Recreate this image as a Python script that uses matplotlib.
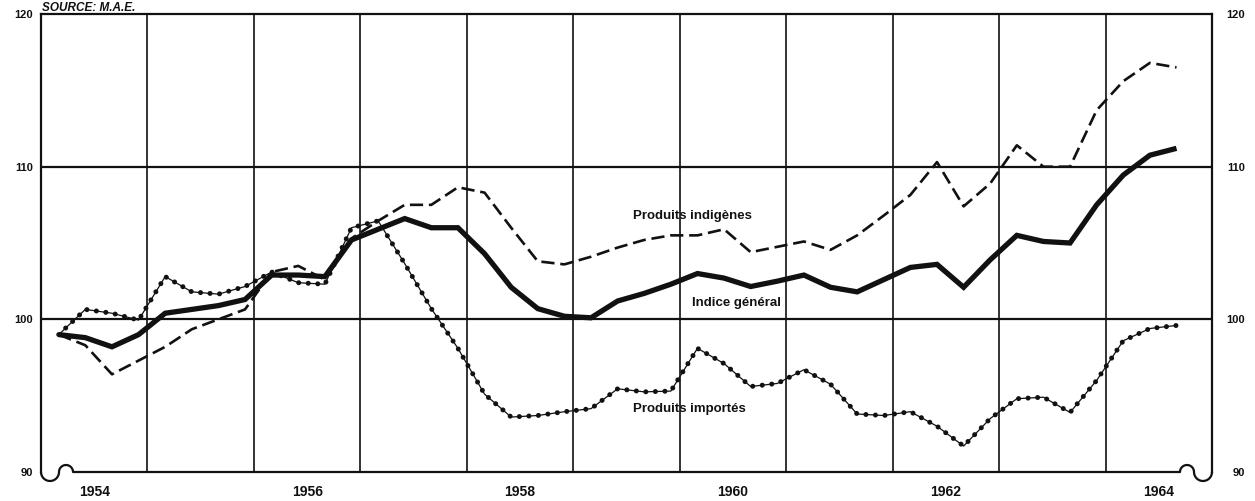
import numpy as np
import matplotlib
matplotlib.use("Agg")
import matplotlib.pyplot as plt

plt.rcParams['font.family'] = ['Liberation Sans', 'DejaVu Sans']

# ---- data (quarterly, 1954 Q1 .. 1964 Q3) ----
quarter_index = np.arange(43)
dates = 1954 + 1 / 6 + 0.25 * quarter_index

indice_general = [99.0, 98.8, 98.2, 99.0, 100.4, 100.65, 100.9, 101.3, 102.9, 102.9,
                  102.8, 105.2, 105.9, 106.6, 106.0, 106.0, 104.3, 102.1, 100.7, 100.2,
                  100.1, 101.2, 101.7, 102.3, 103.0, 102.7, 102.15, 102.5, 102.9, 102.1,
                  101.8, 102.6, 103.4, 103.6, 102.1, 103.9, 105.5, 105.1, 105.0, 107.5,
                  109.45, 110.75, 111.2]

produits_indigenes = [99.0, 98.3, 96.4, 97.3, 98.2, 99.35, 100.0, 100.65, 103.1, 103.5,
                      102.6, 105.3, 106.45, 107.5, 107.5, 108.65, 108.3, 106.0, 103.8, 103.6,
                      104.1, 104.7, 105.2, 105.5, 105.5, 105.9, 104.4, 104.75, 105.1, 104.55,
                      105.5, 106.8, 108.15, 110.3, 107.4, 108.9, 111.4, 110.0, 110.0, 113.7,
                      115.6, 116.8, 116.5]

produits_importes = [99.0, 100.65, 100.4, 99.95, 102.8, 101.8, 101.65, 102.15, 103.1, 102.4,
                     102.3, 106.0, 106.45, 103.65, 100.7, 98.1, 95.1, 93.6, 93.7, 93.95,
                     94.15, 95.45, 95.25, 95.3, 98.1, 97.1, 95.6, 95.8, 96.7, 95.75,
                     93.8, 93.7, 93.95, 93.0, 91.7, 93.5, 94.8, 94.9, 93.9, 96.0,
                     98.6, 99.4, 99.6]

year_labels = ['1954', '1956', '1958', '1960', '1962', '1964']
year_label_years = [1954, 1956, 1958, 1960, 1962, 1964]
grid_years = list(range(1955, 1965))
y_ticks = [90, 100, 110, 120]
y_grid = [100, 110]

# ---- figure ----
W, H = 1255, 501
fig = plt.figure(figsize=(W / 100, H / 100), dpi=100)
L, R, T, B = 41, 1212, 14, 472
ax = fig.add_axes([L / W, 1 - B / H, (R - L) / W, (B - T) / H])
ax.set_xlim(1954, 1965)
ax.set_ylim(90, 120)

ink = '#111111'
for yr in grid_years:
    ax.axvline(yr, color=ink, lw=1.2, zorder=1)
for yv in y_grid:
    ax.axhline(yv, color=ink, lw=1.6, zorder=1)

# series
ax.plot(dates, produits_indigenes, color=ink, lw=1.9, dashes=(5.0, 2.2), zorder=3)
ax.plot(dates, produits_importes, color=ink, lw=0.9, zorder=3)
ax.plot(dates, produits_importes, color=ink, lw=3.6, linestyle=(0, (0.01, 1.9)),
        dash_capstyle='round', zorder=3)
ax.plot(dates, indice_general, color=ink, lw=3.8, solid_joinstyle='miter',
        solid_capstyle='butt', zorder=4)

# labels on curves
lab_kw = dict(fontsize=9.5, fontweight='bold', color=ink, ha='center', va='center', zorder=5)
ax.text(1960.12, 106.75, 'Produits indigènes', **lab_kw)
ax.text(1960.535, 101.1, 'Indice général', **lab_kw)
ax.text(1960.09, 94.1, 'Produits importés', **lab_kw)

# spines
for s in ['top', 'left', 'right']:
    ax.spines[s].set_linewidth(1.6)
    ax.spines[s].set_color(ink)
ax.spines['bottom'].set_visible(False)

aw, ah = R - L, B - T


def fx(px):
    return (px - L) / aw


def fy(py):
    return (B - py) / ah


def arc(cx, r, a0, a1):
    th = np.linspace(a0, a1, 40)
    return fx(cx + r * np.cos(th)), fy(B - r * np.sin(th))


# broken-axis symbols at both bottom corners
x1, y1 = arc(50, 9, np.pi, 2 * np.pi)
x2, y2 = arc(66, 7, np.pi, 0)
x3, y3 = arc(1187, 7, np.pi, 0)
x4, y4 = arc(1203, 9, np.pi, 2 * np.pi)
bx = np.concatenate([x1, x2, [fx(1180)], x3, x4])
by = np.concatenate([y1, y2, [fy(B)], y3, y4])
ax.plot(bx, by, color=ink, lw=1.6, transform=ax.transAxes, clip_on=False,
        solid_capstyle='butt', zorder=6)

# ticks
ax.set_yticks(y_ticks)
ax.set_yticklabels([str(v) for v in y_ticks], fontsize=8, fontweight='bold')
ax.tick_params(axis='y', length=0, pad=6, colors=ink)
ax.set_xticks([y + 0.5 for y in year_label_years])
ax.set_xticklabels(year_labels, fontsize=10, fontweight='bold')
ax.tick_params(axis='x', length=0, pad=9, colors=ink)

ax2 = ax.twinx()
ax2.set_ylim(90, 120)
ax2.set_yticks(y_ticks)
ax2.set_yticklabels([str(v) for v in y_ticks], fontsize=8, fontweight='bold')
for t in ax2.get_yticklabels():
    t.set_horizontalalignment('right')
ax2.tick_params(axis='y', length=0, pad=23.5, colors=ink)
for s in ax2.spines.values():
    s.set_visible(False)

fig.text(42 / W, 1 - 11 / H, 'SOURCE: M.A.E.', fontsize=8.5, fontweight='bold',
         fontstyle='italic', color=ink, ha='left', va='baseline')

fig.savefig('out.png', dpi=100)
